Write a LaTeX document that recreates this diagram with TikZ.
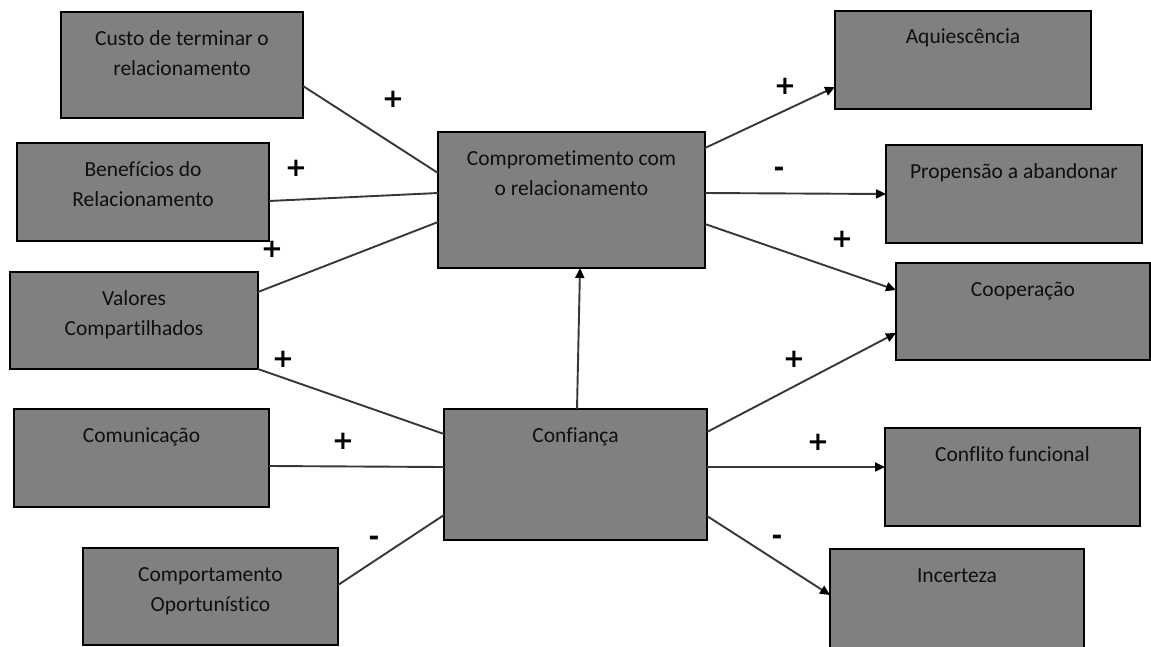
\documentclass[tikz,border=0pt]{standalone}
\usepackage{fontspec}
\setmainfont{Carlito}[Ligatures=NoCommon]
\newfontfamily\signfont{DejaVu Sans}
\usetikzlibrary{arrows.meta}

\definecolor{boxgray}{RGB}{128,128,128}
\definecolor{linkgray}{RGB}{55,55,55}
\definecolor{textdark}{RGB}{15,15,15}

\begin{document}
\begin{tikzpicture}[x=1pt,y=-1pt,
  blk/.style={draw=black, line width=2.6pt, fill=boxgray, outer sep=0pt, inner sep=0pt},
  lbl/.style={anchor=north, inner sep=0pt, align=center,
              font=\fontsize{21.5}{30}\selectfont, text=textdark},
  link/.style={draw=linkgray, line width=1.9pt},
  arr/.style={link, -{Triangle[length=10pt,width=9pt,color=black]}},
  sign/.style={inner sep=0pt, font=\signfont\bfseries\fontsize{26}{26}\selectfont,
               text height=17.7pt, text depth=0pt}
]
\useasboundingbox (0,0) rectangle (1151,646);

% ---- boxes (centre, width, height) ----
\node[blk, minimum width=242, minimum height=106] (custo)   at (182,65)     {};
\node[blk, minimum width=252, minimum height=98]  (benef)   at (143,192)    {};
\node[blk, minimum width=248, minimum height=97]  (valores) at (134,320.5)  {};
\node[blk, minimum width=255, minimum height=98]  (comunic) at (141.5,458)  {};
\node[blk, minimum width=255, minimum height=97]  (comport) at (210.5,596.5){};
\node[blk, minimum width=267, minimum height=136] (compr)   at (571.5,200)  {};
\node[blk, minimum width=263, minimum height=131] (conf)    at (575.5,474.5){};
\node[blk, minimum width=256, minimum height=98]  (aquies)  at (963,60)     {};
\node[blk, minimum width=256, minimum height=98]  (prop)    at (1014,194)   {};
\node[blk, minimum width=254, minimum height=97]  (coop)    at (1023,311.5) {};
\node[blk, minimum width=255, minimum height=98]  (confl)   at (1012.5,477) {};
\node[blk, minimum width=254, minimum height=99]  (incert)  at (957,598.5)  {};

% ---- box texts, set from the top edge ----
\node[lbl] (tcusto)   at (182,24)    {\strut Custo de terminar o\\relacionamento};
\node[lbl] (tbenef)   at (143,155)   {\strut Benefícios do\\Relacionamento};
\node[lbl] (tvalores) at (134,284)   {\strut Valores\\Compartilhados};
\node[lbl] (tcomunic) at (141.5,421) {\strut Comunicação};
\node[lbl] (tcomport) at (210.5,560) {\strut Comportamento\\Oportunístico};
\node[lbl] (tcompr)   at (571.5,144) {\strut Comprometimento com\\o relacionamento};
\node[lbl] (tconf)    at (575.5,421) {\strut Confiança};
\node[lbl] (taquies)  at (963,22)    {\strut Aquiescência};
\node[lbl] (tprop)    at (1014,157)  {\strut Propensão a abandonar};
\node[lbl] (tcoop)    at (1023,275)  {\strut Cooperação};
\node[lbl] (tconfl)   at (1012.5,440){\strut Conflito funcional};
\node[lbl] (tincert)  at (957,561)   {\strut Incerteza};

% ---- links into the commitment box ----
\draw[link] ([yshift=-21]custo.east)   -- ([yshift=27]compr.west);
\draw[link] ([yshift=-9]benef.east)    -- ([yshift=7]compr.west);
\draw[link] ([yshift=28.5]valores.east) -- ([yshift=-22]compr.west);

% ---- links into the trust box ----
\draw[link] (valores.south east)       -- ([yshift=40.5]conf.west);
\draw[link] ([yshift=-8]comunic.east)  -- ([yshift=7.5]conf.west);
\draw[link] ([yshift=11.5]comport.east) -- ([yshift=-40.5]conf.west);

% ---- trust -> commitment ----
\draw[arr] ([xshift=1.5]conf.north) -- ([xshift=8.5]compr.south);

% ---- outcomes ----
\draw[arr] ([yshift=52]compr.east)    -- ([yshift=-27]aquies.west);
\draw[arr] ([yshift=7]compr.east)     -- (prop.west);
\draw[arr] ([yshift=-24]compr.east)   -- ([yshift=21.5]coop.west);
\draw[arr] ([yshift=42.5]conf.east)   -- ([yshift=-21.5]coop.west);
\draw[arr] ([yshift=7.5]conf.east)    -- ([yshift=10]confl.west);
\draw[arr] ([yshift=-41.5]conf.east)  -- ([yshift=3.5]incert.west);

% ---- signs ----
\node[sign] (s1)  at (393,99)  {+};
\node[sign] (s2)  at (296,168) {+};
\node[sign] (s3)  at (272,249) {+};
\node[sign] (s4)  at (283,359) {+};
\node[sign] (s5)  at (343,441) {+};
\node[sign] (s6)  at (374,537) {-};
\node[sign] (s7)  at (785,86)  {+};
\node[sign] (s8)  at (779,168) {-};
\node[sign] (s9)  at (842,239) {+};
\node[sign] (s10) at (794,359) {+};
\node[sign] (s11) at (818,442) {+};
\node[sign] (s12) at (777,536) {-};
\end{tikzpicture}
\end{document}
